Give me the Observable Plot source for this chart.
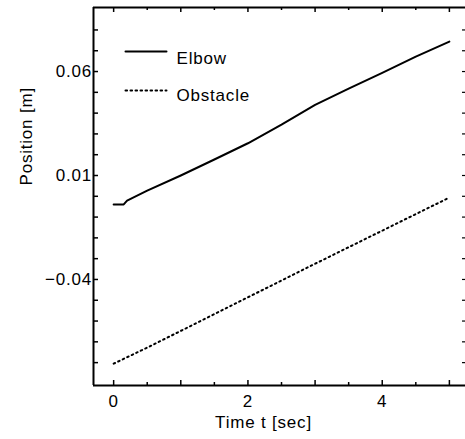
<!DOCTYPE html>
<html>
<head>
<meta charset="utf-8">
<script src="https://cdn.jsdelivr.net/npm/d3@7"></script>
<script src="https://cdn.jsdelivr.net/npm/@observablehq/plot@0.6"></script>
<style>
  html, body { margin: 0; padding: 0; background: #fff; }
  #chart { width: 465px; height: 439px; }
</style>
</head>
<body>
<div id="chart"></div>
<script>
// ---- data ----
const elbowT = [0, 0.15, 0.2, 0.5, 1.0, 1.5, 2.0, 2.5, 3.0, 3.5, 4.0, 4.5, 5.0];
const elbowV = [-0.0039, -0.0039, -0.0021, 0.0027, 0.0100, 0.0177, 0.0255, 0.0345, 0.0440, 0.0518, 0.0594, 0.0672, 0.0744];
const obstacleT = [0, 0.55, 2.89, 5.0];
const obstacleV = [-0.0805, -0.0720, -0.0342, -0.0006];

const xDomain = [-0.3, 5.24];
const yDomain = [-0.091, 0.0908];
const xLabelTicks = [0, 2, 4];
const xMajorTicks = [0, 1, 2, 3, 4, 5];
const xMinorTicks = [0.5, 1.5, 2.5, 3.5, 4.5];
const yLabelTicks = [0.06, 0.01, -0.04];
const yMinorTicks = [0.08, 0.07, 0.06, 0.05, 0.04, 0.03, 0.02, 0.01, 0.0, -0.01, -0.02, -0.03, -0.04, -0.05, -0.06, -0.07, -0.08];
const seriesNames = ["Elbow", "Obstacle"];
const xTitle = "Time t [sec]";
const yTitle = "Position [m]";

const elbow = elbowT.map((t, i) => ({t, v: elbowV[i]}));
const obstacle = obstacleT.map((t, i) => ({t, v: obstacleV[i]}));

const W = 465, H = 439, mL = 93, mR = 0, mT = 7, mB = 54;
const FW = W - mL - mR, FH = H - mT - mB;
const lineShape = {draw(ctx, l) { ctx.moveTo(0, 0); ctx.lineTo(0, -l); }};
const fmtY = d => d.toFixed(2).replace("-", "\u2212");
const fmtX = d => String(d);

const chart = Plot.plot({
  width: W, height: H,
  marginLeft: mL, marginRight: mR, marginTop: mT, marginBottom: mB,
  x: {domain: xDomain},
  y: {domain: yDomain},
  style: {fontFamily: "'Liberation Sans', Arial, sans-serif", fontSize: "17px", letterSpacing: "0.8px", background: "#fff", color: "#000", overflow: "visible"},
  marks: [
    // frame (left, bottom, top)
    Plot.ruleX([xDomain[0]], {strokeWidth: 2}),
    Plot.ruleY([yDomain[0]], {strokeWidth: 2}),
    Plot.ruleY([yDomain[1]], {strokeWidth: 2}),
    // inward ticks
    Plot.ruleX(xMajorTicks, {insetTop: FH - 5, strokeWidth: 1.5}),
    Plot.ruleX(xMinorTicks, {insetTop: FH - 3, strokeWidth: 1.5}),
    Plot.ruleX(xMajorTicks, {insetBottom: FH - 5, strokeWidth: 1.5}),
    Plot.ruleX(xMinorTicks, {insetBottom: FH - 3, strokeWidth: 1.5}),
    Plot.ruleY(yMinorTicks, {insetRight: FW - 5, strokeWidth: 1.5}),
    Plot.ruleY(yMinorTicks, {insetLeft: FW - 3, strokeWidth: 1.2}),
    // tick labels
    Plot.axisX({ticks: xLabelTicks, tickSize: 0, tickPadding: 9, tickFormat: fmtX, label: null}),
    Plot.axisY({ticks: yLabelTicks, tickSize: 0, tickPadding: 1.5, tickFormat: fmtY, label: null}),
    // axis titles
    Plot.text([xTitle], {text: d => d, frameAnchor: "bottom", dx: -16, dy: 42}),
    Plot.text([yTitle], {text: d => d, frameAnchor: "left", dx: -67, dy: -11, rotate: -90}),
    // data
    Plot.line(elbow, {x: "t", y: "v", strokeWidth: 2}),
    Plot.line(obstacle, {x: "t", y: "v", strokeWidth: 2, strokeDasharray: "1.6,3.4"}),
    // legend
    Plot.vector([seriesNames[0]], {frameAnchor: "top-left", dx: 32, dy: 44, rotate: 90, length: 41, anchor: "start", shape: lineShape, strokeWidth: 2}),
    Plot.vector([seriesNames[1]], {frameAnchor: "top-left", dx: 32, dy: 83, rotate: 90, length: 41, anchor: "start", shape: lineShape, strokeWidth: 2, strokeDasharray: "1.6,3.4"}),
    Plot.text([seriesNames[0]], {text: d => d, frameAnchor: "top-left", dx: 83, dy: 44, textAnchor: "start"}),
    Plot.text([seriesNames[1]], {text: d => d, frameAnchor: "top-left", dx: 83, dy: 81, textAnchor: "start"})
  ]
});
document.getElementById("chart").appendChild(chart);
</script>
</body>
</html>
